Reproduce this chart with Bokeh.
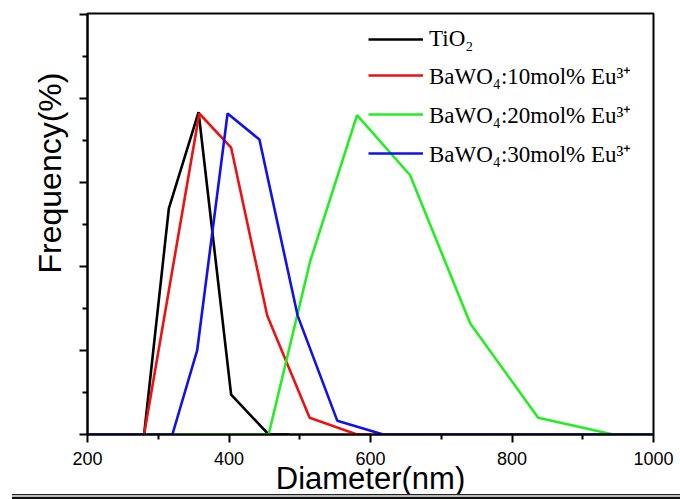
from bokeh.plotting import figure
from bokeh.models import FixedTicker, Legend, LegendItem, Range1d, CustomJSTickFormatter, Title, Div
from bokeh.layouts import column
from bokeh.embed import file_html
from bokeh.resources import INLINE

# ---- data ----
tio2_x = [200, 280, 315, 357, 403, 456, 485]
tio2_y = [0, 0, 5.38, 7.67, 0.95, 0, 0]

eu10_x = [200, 280, 358, 403, 454, 514, 581, 600]
eu10_y = [0, 0, 7.64, 6.83, 2.83, 0.40, 0, 0]

eu20_x = [200, 456, 515, 581, 656, 741, 837, 943, 1000]
eu20_y = [0, 0, 4.14, 7.60, 6.17, 2.64, 0.40, 0, 0]

eu30_x = [200, 320, 355, 398, 443, 497, 553, 618, 1000]
eu30_y = [0, 0, 2.00, 7.64, 7.02, 2.83, 0.33, 0, 0]

labels = ["TiO\u2082",
          "BaWO\u2084:10mol% Eu\u00b3\u207a",
          "BaWO\u2084:20mol% Eu\u00b3\u207a",
          "BaWO\u2084:30mol% Eu\u00b3\u207a"]
colors = ["#000000", "#ee1111", "#22ee22", "#1111ee"]

x_major = [200, 400, 600, 800, 1000]
x_minor = [300, 500, 700, 900]
y_major = [0, 2, 4, 6, 8, 10]
y_minor = [1, 3, 5, 7, 9]

p = figure(width=680, height=499, output_backend="svg", toolbar_location=None,
           x_range=Range1d(200, 1000), y_range=Range1d(0, 10.02),
           min_border_left=87, min_border_right=27, min_border_top=13, min_border_bottom=65)

p.xgrid.visible = False
p.ygrid.visible = False
p.outline_line_color = "black"
p.outline_line_width = 2
p.background_fill_color = "white"
p.border_fill_color = "white"

renderers = []
for xs, ys, c in [(tio2_x, tio2_y, colors[0]), (eu10_x, eu10_y, colors[1]),
                  (eu20_x, eu20_y, colors[2]), (eu30_x, eu30_y, colors[3])]:
    renderers.append(p.line(xs, ys, line_color=c, line_width=2.6))

# axes
p.xaxis.ticker = FixedTicker(ticks=x_major, minor_ticks=x_minor)
p.yaxis.ticker = FixedTicker(ticks=y_major, minor_ticks=y_minor)
for ax in (p.xaxis, p.yaxis):
    ax.axis_line_width = 2
    ax.axis_line_color = "black"
    ax.major_tick_line_width = 2
    ax.minor_tick_line_width = 2
    ax.major_tick_in = 0
    ax.minor_tick_in = 0
    ax.major_tick_out = 8
    ax.minor_tick_out = 5
    ax.axis_label_text_font = "Liberation Sans"
    ax.axis_label_text_font_style = "normal"
    ax.axis_label_text_font_size = "31px"
    ax.axis_label_text_color = "black"
    ax.major_label_text_font = "Liberation Sans"
    ax.major_label_text_font_size = "18px"
    ax.major_label_text_color = "black"

p.xaxis.axis_label = "Diameter(nm)"
p.xaxis.major_label_standoff = 9
p.xaxis.axis_label_standoff = -7
p.yaxis.formatter = CustomJSTickFormatter(code="return ''")
p.yaxis.major_label_standoff = 0

ytitle = Title(text="Frequency(%)", align="left", offset=161, standoff=24,
               text_font="Liberation Sans", text_font_style="normal",
               text_font_size="32px", text_color="black")
p.add_layout(ytitle, "left")

legend = Legend(items=[LegendItem(label=l, renderers=[r]) for l, r in zip(labels, renderers)],
                location=(281, 265), padding=0, margin=0, spacing=7,
                glyph_width=55, glyph_height=26, label_height=26, label_standoff=6,
                label_text_font="Liberation Serif", label_text_font_size="23px",
                label_text_color="black",
                border_line_alpha=0, background_fill_alpha=0)
p.add_layout(legend)

# double rule at the bottom of the picture
rule = Div(width=668, height=5, margin=(-5, 0, 0, 12),
           styles={"box-sizing": "border-box", "border-top": "1px solid #222",
                   "border-bottom": "2px solid #111", "background": "#bbbbbb"})

layout = column(p, rule, spacing=0)
open("out.html", "w").write(file_html(layout, INLINE))
